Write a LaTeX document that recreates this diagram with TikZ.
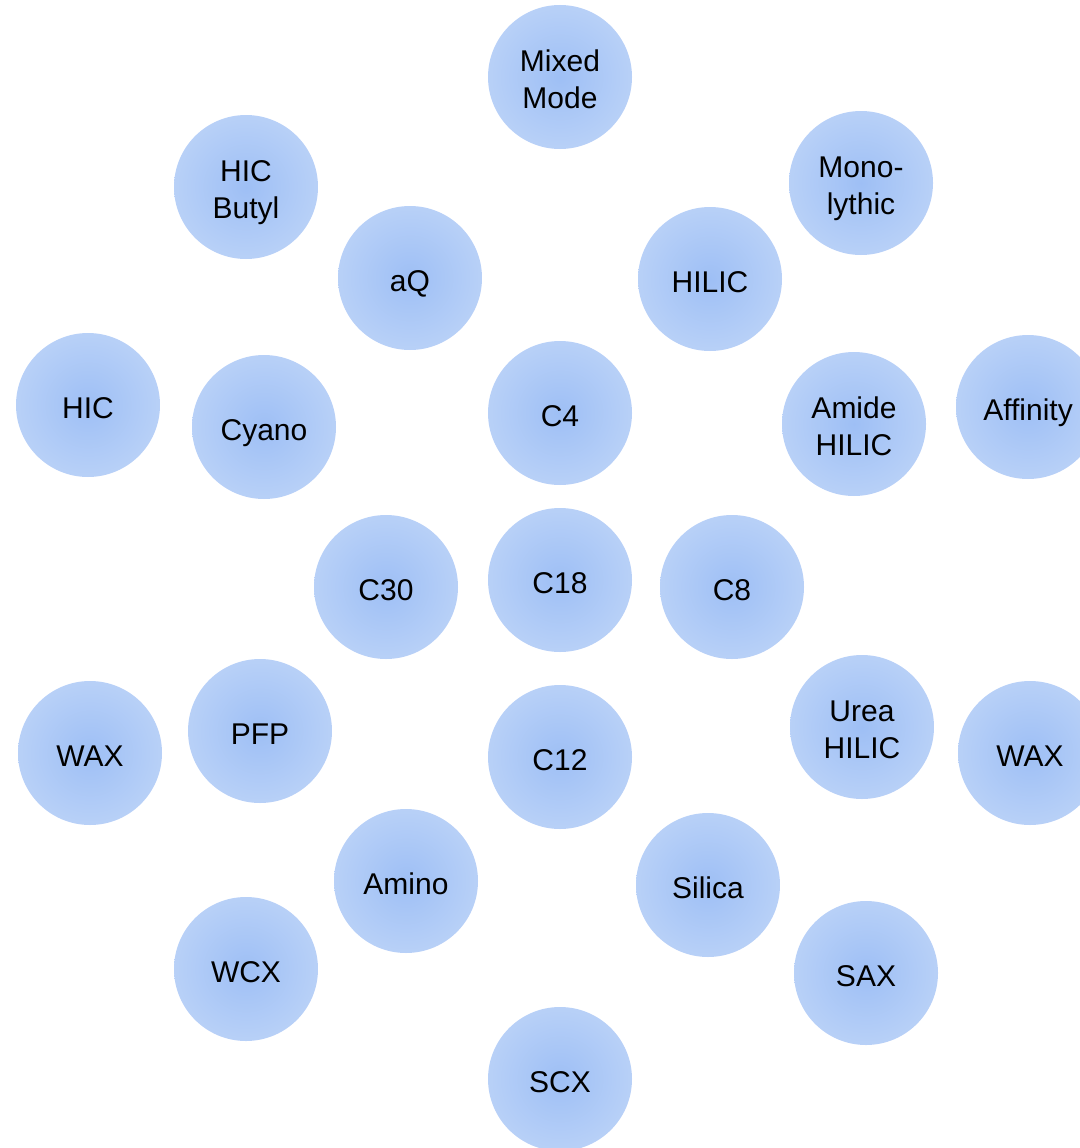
\documentclass[tikz,border=0pt]{standalone}
\usepackage{fontspec}
\setmainfont{Liberation Sans}
\definecolor{bubblein}{RGB}{158,191,245}
\definecolor{bubbleout}{RGB}{210,226,250}
\pgfdeclareradialshading{bubbleshade}{\pgfpoint{0bp}{0bp}}{color(0bp)=(bubblein); color(50bp)=(bubbleout); color(100bp)=(bubbleout)}
\tikzset{
    bubble/.style={circle, minimum size=144pt, inner sep=0pt, shading=bubbleshade,
        text height=27pt, text depth=0pt, font=\fontsize{30}{37}\selectfont},
    twoline/.style={align=center, text height=, text depth=,
        execute at begin node={\rule{0pt}{69pt}},
        execute at end node={\rule[-7pt]{0pt}{7pt}}}
}
\begin{document}
\begin{tikzpicture}[x=1pt,y=-1pt]
        \useasboundingbox (0,0) rectangle (1079,1148);
        \node[bubble,twoline] (mixed) at (560,77) {Mixed\\Mode};
        \node[bubble,twoline] (hicbutyl) at (246,187) {HIC\\Butyl};
        \node[bubble,twoline] (mono) at (861,183) {Mono-\\lythic};
        \node[bubble] (aq) at (410,278) {aQ};
        \node[bubble] (hilic) at (710,279) {HILIC};
        \node[bubble] (hic) at (88,405) {HIC};
        \node[bubble] (cyano) at (264,427) {Cyano};
        \node[bubble] (cfour) at (560,413) {C4};
        \node[bubble,twoline] (amide) at (854,424) {Amide\\HILIC};
        \node[bubble] (affinity) at (1028,407) {Affinity};
        \node[bubble] (cthirty) at (386,587) {C30};
        \node[bubble] (ceighteen) at (560,580) {C18};
        \node[bubble] (ceight) at (732,587) {C8};
        \node[bubble] (waxleft) at (90,753) {WAX};
        \node[bubble] (pfp) at (260,731) {PFP};
        \node[bubble] (ctwelve) at (560,757) {C12};
        \node[bubble,twoline] (urea) at (862,727) {Urea\\HILIC};
        \node[bubble] (waxright) at (1030,753) {WAX};
        \node[bubble] (amino) at (406,881) {Amino};
        \node[bubble] (silica) at (708,885) {Silica};
        \node[bubble] (wcx) at (246,969) {WCX};
        \node[bubble] (sax) at (866,973) {SAX};
        \node[bubble] (scx) at (560,1079) {SCX};
    \end{tikzpicture}
\end{document}
